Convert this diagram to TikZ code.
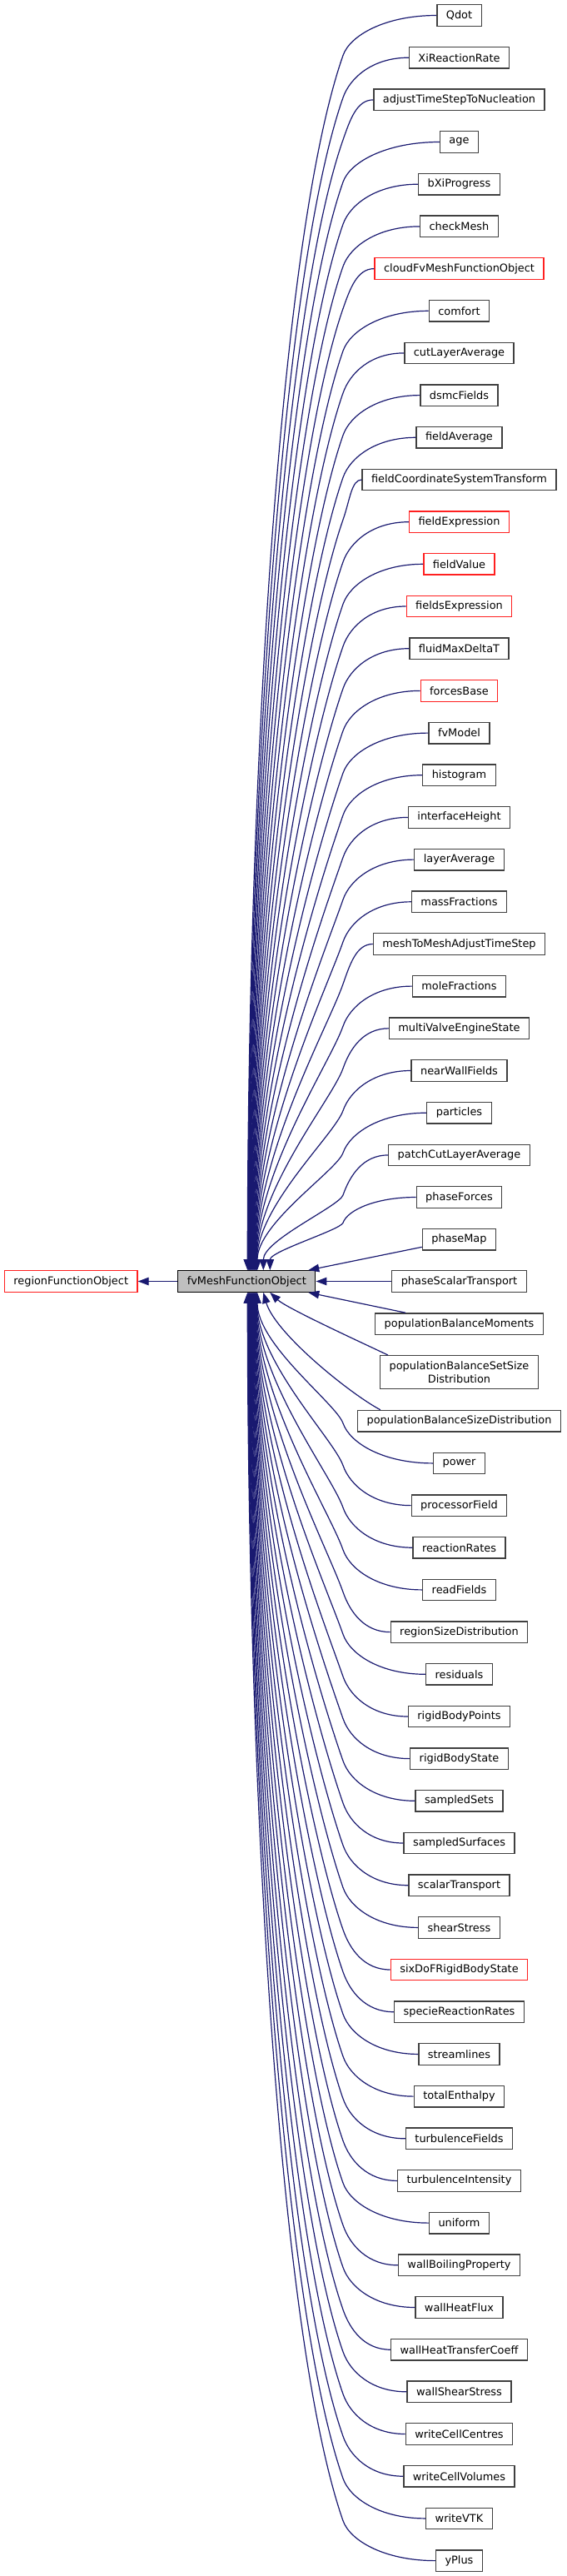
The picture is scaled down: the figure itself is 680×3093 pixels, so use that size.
\documentclass[tikz,border=0pt]{standalone}
\usepackage{fontspec}
\setmainfont{DejaVu Sans}
\usetikzlibrary{arrows.meta,calc}
\definecolor{edgeblue}{HTML}{191970}
\definecolor{boxgray}{HTML}{404040}
\definecolor{boxred}{HTML}{FF2020}
\definecolor{fvfill}{HTML}{BFBFBF}
\tikzset{
  box/.style={draw=boxgray, line width=1.3pt, fill=white, inner xsep=11pt, inner ysep=0pt,
    minimum height=25.5pt, font=\fontsize{12.9}{15.2}\selectfont},
  redbox/.style={box, draw=boxred},
  fvbox/.style={box, fill=fvfill, draw=black},
  inh/.style={draw=edgeblue, line width=1.2pt, -{Triangle[length=13pt,width=9.5pt]}}
}
\newcommand\upedge[2]{%
  \draw[inh] let \p1=(#1.west), \p2=(fv.north),
    \n1={min(48,0.35*((\y1)-(\y2)))},
    \n2={(\y1)-(\y2)-\n1}
  in (#1.west) .. controls ({\x1-0.55*(\x1-412pt)},\y1) and ({412pt+0.175*\n1},{\y1-0.5*\n1}) .. (412pt,{\y1-\n1})
  .. controls ({412pt-0.0525*\n2},{\y1-\n1-0.15*\n2}) and ({\x2+#2pt},{\y2+0.4*\n2}) .. ($(fv.north)+(#2,0)$);}
\newcommand\downedge[2]{%
  \draw[inh] let \p1=(#1.west), \p2=(fv.south),
    \n1={min(48,0.35*((\y2)-(\y1)))},
    \n2={(\y2)-(\y1)-\n1}
  in (#1.west) .. controls ({\x1-0.55*(\x1-412pt)},\y1) and ({412pt+0.175*\n1},{\y1+0.5*\n1}) .. (412pt,{\y1+\n1})
  .. controls ({412pt-0.0525*\n2},{\y1+\n1+0.15*\n2}) and ({\x2+#2pt},{\y2-0.4*\n2}) .. ($(fv.south)+(#2,0)$);}
\begin{document}
\begin{tikzpicture}[x=1pt,y=-1pt]
\useasboundingbox (0,0) rectangle (680,3093);
\node[redbox] (region) at (85.2,1538.5) {regionFunctionObject};
\node[fvbox] (fv) at (296.3,1538.5) {fvMeshFunctionObject};
\node[box] (Qdot) at (551.5,18.5) {Qdot};
\node[box] (XiReactionRate) at (551.5,69.2) {XiReactionRate};
\node[box] (adjustTimeStepToNucleation) at (551.5,119.9) {adjustTimeStepToNucleation};
\node[box] (age) at (551.5,170.5) {age};
\node[box] (bXiProgress) at (551.5,221.2) {bXiProgress};
\node[box] (checkMesh) at (551.5,271.9) {checkMesh};
\node[redbox] (cloudFvMeshFunctionObject) at (551.5,322.6) {cloudFvMeshFunctionObject};
\node[box] (comfort) at (551.5,373.3) {comfort};
\node[box] (cutLayerAverage) at (551.5,423.9) {cutLayerAverage};
\node[box] (dsmcFields) at (551.5,474.6) {dsmcFields};
\node[box] (fieldAverage) at (551.5,525.3) {fieldAverage};
\node[box] (fieldCoordinateSystemTransform) at (551.5,576.0) {fieldCoordinateSystemTransform};
\node[redbox] (fieldExpression) at (551.5,626.7) {fieldExpression};
\node[redbox] (fieldValue) at (551.5,677.3) {fieldValue};
\node[redbox] (fieldsExpression) at (551.5,728.0) {fieldsExpression};
\node[box] (fluidMaxDeltaT) at (551.5,778.7) {fluidMaxDeltaT};
\node[redbox] (forcesBase) at (551.5,829.4) {forcesBase};
\node[box] (fvModel) at (551.5,880.1) {fvModel};
\node[box] (histogram) at (551.5,930.7) {histogram};
\node[box] (interfaceHeight) at (551.5,981.4) {interfaceHeight};
\node[box] (layerAverage) at (551.5,1032.1) {layerAverage};
\node[box] (massFractions) at (551.5,1082.8) {massFractions};
\node[box] (meshToMeshAdjustTimeStep) at (551.5,1133.5) {meshToMeshAdjustTimeStep};
\node[box] (moleFractions) at (551.5,1184.1) {moleFractions};
\node[box] (multiValveEngineState) at (551.5,1234.8) {multiValveEngineState};
\node[box] (nearWallFields) at (551.5,1285.5) {nearWallFields};
\node[box] (particles) at (551.5,1336.2) {particles};
\node[box] (patchCutLayerAverage) at (551.5,1386.9) {patchCutLayerAverage};
\node[box] (phaseForces) at (551.5,1437.5) {phaseForces};
\node[box] (phaseMap) at (551.5,1488.2) {phaseMap};
\node[box] (phaseScalarTransport) at (551.5,1538.5) {phaseScalarTransport};
\node[box] (populationBalanceMoments) at (551.5,1589.6) {populationBalanceMoments};
\node[box, minimum height=40pt, align=center] (populationBalanceSetSizeDistribution) at (551.5,1647.7) {populationBalanceSetSize\\Distribution};
\node[box] (populationBalanceSizeDistribution) at (551.5,1706.2) {populationBalanceSizeDistribution};
\node[box] (power) at (551.5,1756.9) {power};
\node[box] (processorField) at (551.5,1807.6) {processorField};
\node[box] (reactionRates) at (551.5,1858.2) {reactionRates};
\node[box] (readFields) at (551.5,1908.9) {readFields};
\node[box] (regionSizeDistribution) at (551.5,1959.6) {regionSizeDistribution};
\node[box] (residuals) at (551.5,2010.3) {residuals};
\node[box] (rigidBodyPoints) at (551.5,2061.0) {rigidBodyPoints};
\node[box] (rigidBodyState) at (551.5,2111.6) {rigidBodyState};
\node[box] (sampledSets) at (551.5,2162.3) {sampledSets};
\node[box] (sampledSurfaces) at (551.5,2213.0) {sampledSurfaces};
\node[box] (scalarTransport) at (551.5,2263.7) {scalarTransport};
\node[box] (shearStress) at (551.5,2314.4) {shearStress};
\node[redbox] (sixDoFRigidBodyState) at (551.5,2365.0) {sixDoFRigidBodyState};
\node[box] (specieReactionRates) at (551.5,2415.7) {specieReactionRates};
\node[box] (streamlines) at (551.5,2466.4) {streamlines};
\node[box] (totalEnthalpy) at (551.5,2517.1) {totalEnthalpy};
\node[box] (turbulenceFields) at (551.5,2567.8) {turbulenceFields};
\node[box] (turbulenceIntensity) at (551.5,2618.4) {turbulenceIntensity};
\node[box] (uniform) at (551.5,2669.1) {uniform};
\node[box] (wallBoilingProperty) at (551.5,2719.8) {wallBoilingProperty};
\node[box] (wallHeatFlux) at (551.5,2770.5) {wallHeatFlux};
\node[box] (wallHeatTransferCoeff) at (551.5,2821.2) {wallHeatTransferCoeff};
\node[box] (wallShearStress) at (551.5,2871.8) {wallShearStress};
\node[box] (writeCellCentres) at (551.5,2922.5) {writeCellCentres};
\node[box] (writeCellVolumes) at (551.5,2973.2) {writeCellVolumes};
\node[box] (writeVTK) at (551.5,3023.9) {writeVTK};
\node[box] (yPlus) at (551.5,3074.6) {yPlus};
% edges
\draw[inh] (fv) -- (region);
\upedge{Qdot}{1}
\upedge{XiReactionRate}{1.45}
\upedge{adjustTimeStepToNucleation}{1.9}
\upedge{age}{2.35}
\upedge{bXiProgress}{2.8}
\upedge{checkMesh}{3.25}
\upedge{cloudFvMeshFunctionObject}{3.7}
\upedge{comfort}{4.15}
\upedge{cutLayerAverage}{4.6}
\upedge{dsmcFields}{5.05}
\upedge{fieldAverage}{5.5}
\upedge{fieldCoordinateSystemTransform}{5.95}
\upedge{fieldExpression}{6.4}
\upedge{fieldValue}{6.85}
\upedge{fieldsExpression}{7.3}
\upedge{fluidMaxDeltaT}{7.75}
\upedge{forcesBase}{8.2}
\upedge{fvModel}{8.65}
\upedge{histogram}{9.1}
\upedge{interfaceHeight}{9.55}
\upedge{layerAverage}{10}
\upedge{massFractions}{10.45}
\upedge{meshToMeshAdjustTimeStep}{10.9}
\upedge{moleFractions}{11.35}
\upedge{multiValveEngineState}{11.8}
\upedge{nearWallFields}{12.25}
\upedge{particles}{12.7}
\upedge{patchCutLayerAverage}{20}
\upedge{phaseForces}{28}
\draw[inh] (phaseMap) -- ($(fv.north)+(74,0)$);
\draw[inh] (phaseScalarTransport) -- (fv);
\draw[inh] (populationBalanceMoments) -- ($(fv.south)+(74,0)$);
\draw[inh] ($(populationBalanceSetSizeDistribution.north west)+(10,0)$) .. controls +(-25,-12) and +(20,19) .. ($(fv.south)+(28,0)$);
\draw[inh] ($(populationBalanceSizeDistribution.north west)+(28,0)$) .. controls +(-36,-19) and +(14,49) .. ($(fv.south)+(20,0)$);
\downedge{power}{12.7}
\downedge{processorField}{12.25}
\downedge{reactionRates}{11.8}
\downedge{readFields}{11.35}
\downedge{regionSizeDistribution}{10.9}
\downedge{residuals}{10.45}
\downedge{rigidBodyPoints}{10}
\downedge{rigidBodyState}{9.55}
\downedge{sampledSets}{9.1}
\downedge{sampledSurfaces}{8.65}
\downedge{scalarTransport}{8.2}
\downedge{shearStress}{7.75}
\downedge{sixDoFRigidBodyState}{7.3}
\downedge{specieReactionRates}{6.85}
\downedge{streamlines}{6.4}
\downedge{totalEnthalpy}{5.95}
\downedge{turbulenceFields}{5.5}
\downedge{turbulenceIntensity}{5.05}
\downedge{uniform}{4.6}
\downedge{wallBoilingProperty}{4.15}
\downedge{wallHeatFlux}{3.7}
\downedge{wallHeatTransferCoeff}{3.25}
\downedge{wallShearStress}{2.8}
\downedge{writeCellCentres}{2.35}
\downedge{writeCellVolumes}{1.9}
\downedge{writeVTK}{1.45}
\downedge{yPlus}{1}
\end{tikzpicture}
\end{document}
